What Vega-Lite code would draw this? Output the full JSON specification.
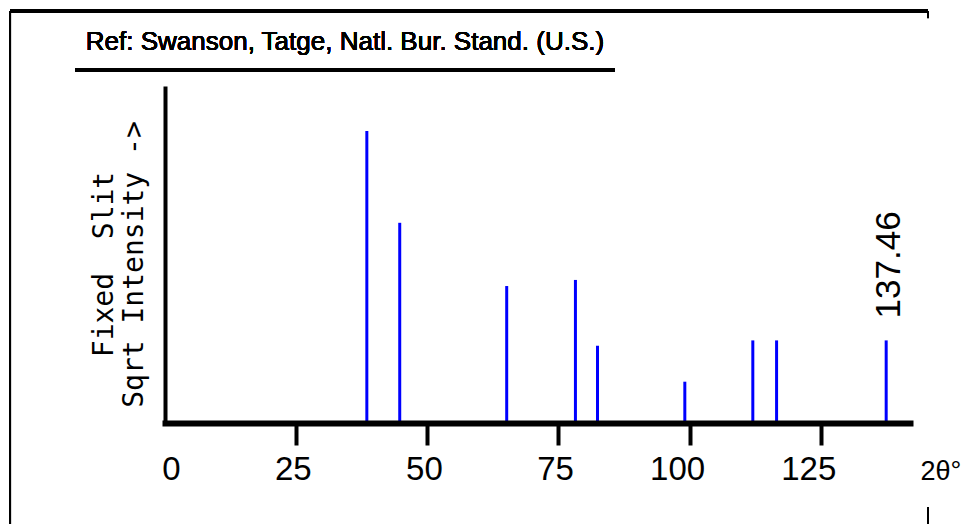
{
  "$schema": "https://vega.github.io/schema/vega-lite/v6.json",
  "width": 745,
  "height": 335,
  "autosize": {"type": "none"},
  "padding": {"left": 165, "top": 88, "right": 51, "bottom": 101},
  "background": "white",
  "config": {"view": {"stroke": null}, "axis": {"grid": false}},
  "data": {
    "values": [
      {"twoTheta": 38.47, "intensity": 100},
      {"twoTheta": 44.74, "intensity": 47},
      {"twoTheta": 65.13, "intensity": 22},
      {"twoTheta": 78.23, "intensity": 24},
      {"twoTheta": 82.44, "intensity": 7},
      {"twoTheta": 99.08, "intensity": 2},
      {"twoTheta": 112.04, "intensity": 8},
      {"twoTheta": 116.57, "intensity": 8},
      {"twoTheta": 137.46, "intensity": 8}
    ]
  },
  "layer": [
    {
      "mark": {"type": "rule", "color": "#0000ff", "strokeWidth": 3},
      "encoding": {
        "x": {
          "field": "twoTheta",
          "type": "quantitative",
          "scale": {"domain": [0, 142], "nice": false, "zero": false},
          "axis": {
            "title": "2θ°",
            "titleX": 755,
            "titleY": 56,
            "titleAlign": "left",
            "titleBaseline": "alphabetic",
            "titleFont": "Liberation Sans",
            "titleFontSize": 27,
            "titleFontWeight": "normal",
            "titleColor": "black",
            "values": [0, 25, 50, 75, 100, 125],
            "format": "d",
            "labelFont": "Liberation Sans",
            "labelFontSize": 33,
            "labelColor": "black",
            "labelAlign": "right",
            "labelOffset": 15,
            "labelBaseline": "alphabetic",
            "labelPadding": 34,
            "labelFlush": false,
            "labelOverlap": false,
            "tickSize": 22,
            "tickWidth": 4,
            "tickColor": {"condition": {"test": "datum.value === 0", "value": "transparent"}, "value": "black"},
            "domainColor": "black",
            "domainWidth": 6,
            "domainCap": "square",
            "zindex": 1
          }
        },
        "y": {
          "field": "intensity",
          "type": "quantitative",
          "scale": {"type": "sqrt", "domain": [0, 131.6], "nice": false},
          "axis": {
            "title": ["Fixed\u00a0\u00a0Slit\u00a0\u00a0", "Sqrt Intensity ->"],
            "titleAngle": 270,
            "titleAlign": "center",
            "titleBaseline": "alphabetic",
            "titleX": -53,
            "titleY": 176,
            "titleLineHeight": 30,
            "titleFont": "DejaVu Sans Mono",
            "titleFontSize": 28,
            "titleFontWeight": "normal",
            "titleColor": "black",
            "labels": false,
            "ticks": false,
            "domainColor": "black",
            "domainWidth": 4,
            "domainCap": "square",
            "zindex": 1
          }
        },
        "y2": {"datum": 0}
      }
    },
    {
      "transform": [{"filter": "datum.twoTheta === 137.46"}],
      "mark": {
        "type": "text",
        "angle": 270,
        "align": "left",
        "baseline": "alphabetic",
        "dx": 22,
        "dy": 14,
        "font": "Liberation Sans",
        "fontSize": 35,
        "color": "black"
      },
      "encoding": {
        "x": {"field": "twoTheta", "type": "quantitative", "scale": {"domain": [0, 142], "nice": false, "zero": false}},
        "y": {"field": "intensity", "type": "quantitative", "scale": {"type": "sqrt", "domain": [0, 131.6], "nice": false}},
        "text": {"field": "twoTheta", "type": "quantitative", "format": ".2f"}
      }
    },
    {
      "mark": {
        "type": "text",
        "align": "left",
        "baseline": "alphabetic",
        "font": "Liberation Sans",
        "fontSize": 26,
        "color": "black"
      },
      "encoding": {
        "x": {"datum": -15.1, "type": "quantitative", "scale": {"domain": [0, 142], "nice": false, "zero": false}},
        "y": {"datum": 163.15, "type": "quantitative", "scale": {"type": "sqrt", "domain": [0, 131.6], "nice": false}},
        "text": {"datum": "Ref: Swanson, Tatge, Natl. Bur. Stand. (U.S.)"}
      }
    },
    {
      "mark": {"type": "rule", "color": "black", "strokeWidth": 3},
      "encoding": {
        "x": {"datum": -29.54, "type": "quantitative", "scale": {"domain": [0, 142], "nice": false, "zero": false}},
        "x2": {"datum": 145.43},
        "y": {"datum": 199.05, "type": "quantitative", "scale": {"type": "sqrt", "domain": [0, 131.6], "nice": false}}
      }
    },
    {
      "mark": {"type": "rule", "color": "black", "strokeWidth": 2},
      "encoding": {
        "x": {"datum": -29.54, "type": "quantitative", "scale": {"domain": [0, 142], "nice": false, "zero": false}},
        "y": {"datum": 199.05, "type": "quantitative", "scale": {"type": "sqrt", "domain": [0, 131.6], "nice": false}},
        "y2": {"datum": -12.5}
      }
    },
    {
      "mark": {"type": "rule", "color": "black", "strokeWidth": 2},
      "encoding": {
        "x": {"datum": 145.43, "type": "quantitative", "scale": {"domain": [0, 142], "nice": false, "zero": false}},
        "y": {"datum": 199.05, "type": "quantitative", "scale": {"type": "sqrt", "domain": [0, 131.6], "nice": false}},
        "y2": {"datum": 192.3}
      }
    },
    {
      "mark": {"type": "rule", "color": "black", "strokeWidth": 2},
      "encoding": {
        "x": {"datum": 145.43, "type": "quantitative", "scale": {"domain": [0, 142], "nice": false, "zero": false}},
        "y": {"datum": -8.27, "type": "quantitative", "scale": {"type": "sqrt", "domain": [0, 131.6], "nice": false}},
        "y2": {"datum": -12.5}
      }
    },
    {
      "mark": {"type": "rule", "color": "black", "strokeWidth": 3},
      "encoding": {
        "x": {"datum": -17.15, "type": "quantitative", "scale": {"domain": [0, 142], "nice": false, "zero": false}},
        "x2": {"datum": 85.77},
        "y": {"datum": 146.1, "type": "quantitative", "scale": {"type": "sqrt", "domain": [0, 131.6], "nice": false}}
      }
    }
  ]
}
